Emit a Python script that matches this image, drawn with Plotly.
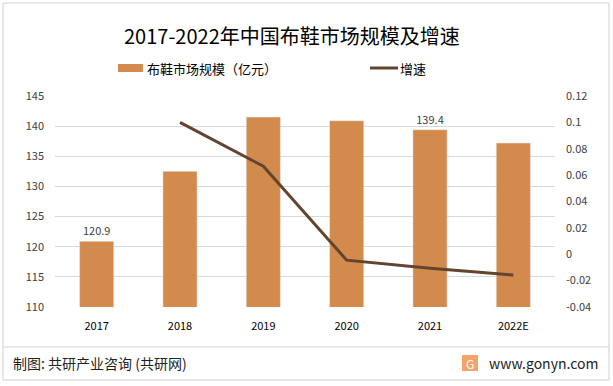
import plotly.graph_objects as go

categories = ["2017", "2018", "2019", "2020", "2021", "2022E"]
market_size = [120.9, 132.5, 141.5, 140.9, 139.4, 137.2]
growth = [None, 0.1, 0.0667, -0.0045, -0.0106, -0.0158]
size_labels = ["120.9", "", "", "", "139.4", ""]
left_ticks = [110, 115, 120, 125, 130, 135, 140, 145]
right_ticks = [-0.04, -0.02, 0, 0.02, 0.04, 0.06, 0.08, 0.1, 0.12]
right_tick_text = ["-0.04", "-0.02", "0", "0.02", "0.04", "0.06", "0.08", "0.1", "0.12"]

FONT = "Noto Sans CJK SC, Noto Sans, sans-serif"
BAR = "#D38B4D"
LINE = "#634430"

L, R, T, B = 55, 555, 96, 307
W, H = R - L, B - T


def px(x):
    return (x - L) / W


def py(y):
    return (B - y) / H


fig = go.Figure()
fig.add_trace(go.Bar(
    x=categories, y=market_size, name="布鞋市场规模（亿元）",
    marker=dict(color=BAR), width=0.41,
    text=size_labels, textposition="outside",
    textfont=dict(size=11, color="#404040", family=FONT),
    cliponaxis=False,
))
fig.add_trace(go.Scatter(
    x=categories, y=growth, name="增速", yaxis="y2", mode="lines",
    line=dict(color=LINE, width=3),
))

fig.update_layout(
    width=613, height=386,
    margin=dict(l=L, r=613 - R, t=T, b=386 - B),
    paper_bgcolor="white", plot_bgcolor="white",
    font=dict(family=FONT, size=11, color="#404040"),
    showlegend=False,
    xaxis=dict(showgrid=False, showline=False, ticks="", tickfont=dict(size=11, color="#000000"),
               ticklabelstandoff=11),
    yaxis=dict(range=[110, 145], tickvals=left_ticks, showgrid=True, gridcolor="#D9D9D9",
               gridwidth=1, zeroline=False, showline=False, ticks="",
               tickfont=dict(size=11, color="#404040"), ticklabelstandoff=10),
    yaxis2=dict(range=[-0.04, 0.12], tickvals=right_ticks, ticktext=right_tick_text,
                overlaying="y", side="right", showgrid=False, zeroline=False,
                showline=False, ticks="", tickfont=dict(size=11, color="#404040"),
                ticklabelstandoff=10),
)

# outer frame and separator line
fig.add_shape(type="rect", xref="paper", yref="paper",
              x0=px(3), x1=px(609), y0=py(380), y1=py(3),
              line=dict(color="#D0D0D0", width=1), fillcolor="rgba(0,0,0,0)", layer="below")
fig.add_shape(type="line", xref="paper", yref="paper",
              x0=px(3), x1=px(609), y0=py(347), y1=py(347),
              line=dict(color="#D0D0D0", width=1))

# title
fig.add_annotation(text="2017-2022年中国布鞋市场规模及增速", xref="paper", yref="paper",
                   x=px(291.5), y=py(36), xanchor="center", yanchor="middle", showarrow=False,
                   font=dict(size=20, color="#000000", family=FONT))

# legend (custom)
fig.add_shape(type="rect", xref="paper", yref="paper",
              x0=px(118), x1=px(143), y0=py(72), y1=py(64),
              fillcolor=BAR, line=dict(width=0))
fig.add_annotation(text="布鞋市场规模（亿元）", xref="paper", yref="paper",
                   x=px(145), y=py(68), xanchor="left", yanchor="middle", showarrow=False,
                   font=dict(size=13, color="#000000", family=FONT))
fig.add_shape(type="line", xref="paper", yref="paper",
              x0=px(370), x1=px(398), y0=py(68), y1=py(68),
              line=dict(color=LINE, width=3))
fig.add_annotation(text="增速", xref="paper", yref="paper",
                   x=px(398), y=py(68), xanchor="left", yanchor="middle", showarrow=False,
                   font=dict(size=13, color="#000000", family=FONT))

# footer
fig.add_annotation(text="制图: 共研产业咨询 (共研网)", xref="paper", yref="paper",
                   x=px(11), y=py(363), xanchor="left", yanchor="middle", showarrow=False,
                   font=dict(size=14, color="#222222", family=FONT))
fig.add_shape(type="rect", xref="paper", yref="paper",
              x0=px(462), x1=px(478), y0=py(371), y1=py(355),
              fillcolor="#F4A36A", line=dict(width=0))
fig.add_annotation(text="G", xref="paper", yref="paper",
                   x=px(470), y=py(363), xanchor="center", yanchor="middle", showarrow=False,
                   font=dict(size=12, color="white", family=FONT))
fig.add_annotation(text="www.gonyn.com", xref="paper", yref="paper",
                   x=px(487), y=py(363), xanchor="left", yanchor="middle", showarrow=False,
                   font=dict(size=14, color="#222222", family=FONT))

fig.write_html("out.html", post_script="document.body.style.margin='0';",
               config={"displayModeBar": False})
